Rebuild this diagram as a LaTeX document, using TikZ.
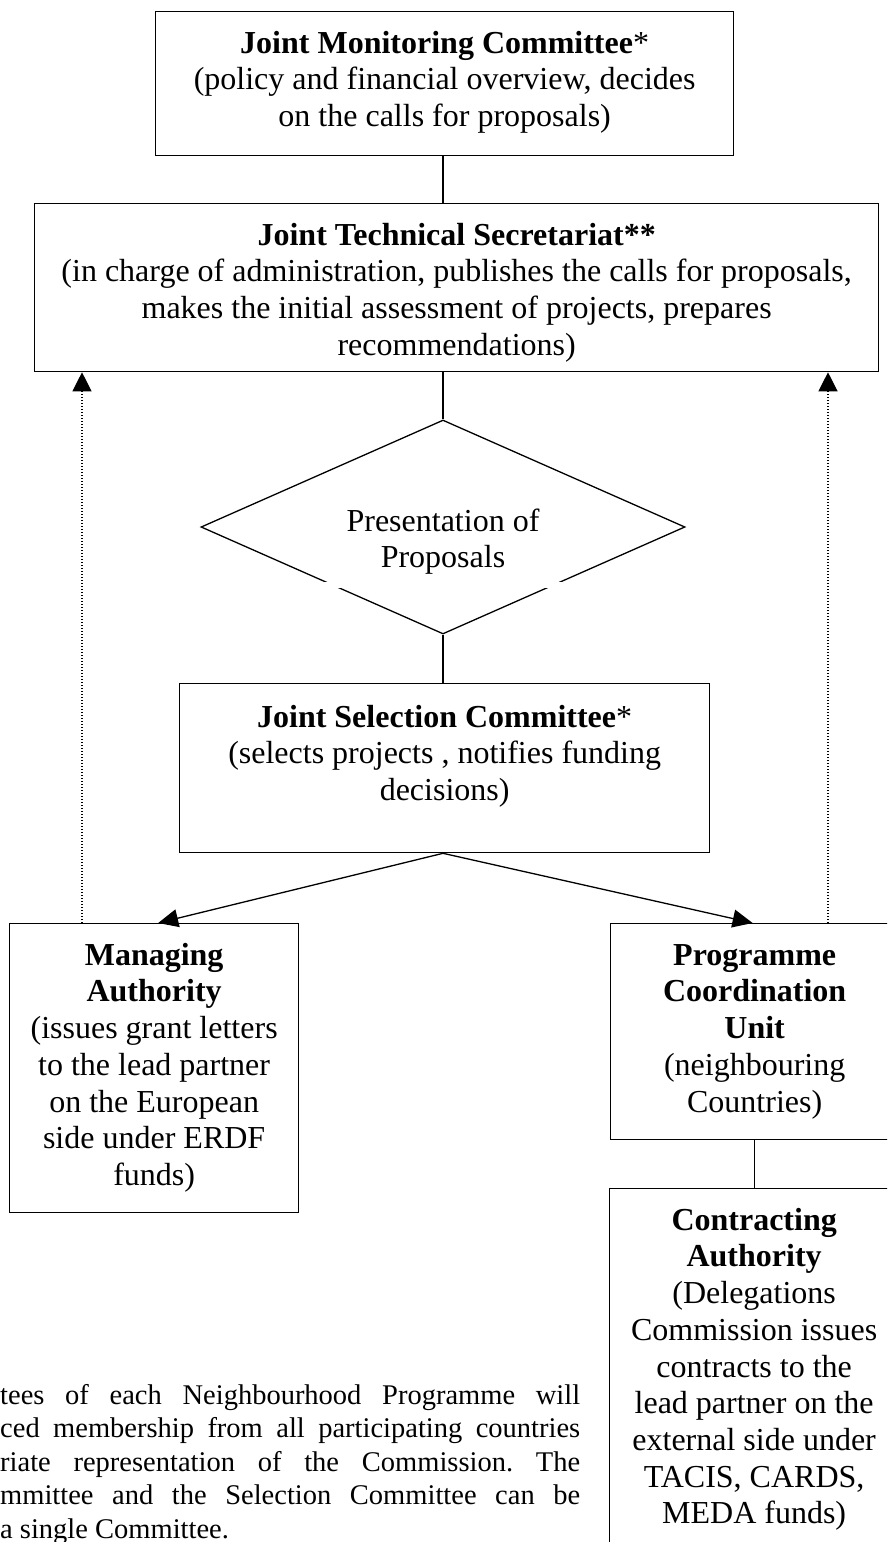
\documentclass[tikz,border=0pt]{standalone}
\usepackage{fontspec}
\setmainfont{Liberation Serif}
\usetikzlibrary{arrows.meta,shapes.geometric,calc}
\frenchspacing
\begin{document}
\begin{tikzpicture}[x=1pt,y=-1pt,
  boxst/.style={draw, line width=1.3pt, rectangle, inner sep=0pt, anchor=north west},
  txt/.style={align=center, inner sep=0pt, anchor=north, font=\fontsize{32}{36.7}\selectfont},
  conn/.style={line width=1.3pt},
  arr/.style={line width=1.3pt, -{Triangle[length=20pt,width=18pt]}},
  dotarr/.style={line width=1.2pt, dash pattern=on 1.4pt off 1.6pt, -{Triangle[length=19pt,width=19pt]}},
  foot/.style={align=left, inner sep=0pt, anchor=north west, font=\fontsize{28.5}{33.5}\selectfont}]
\useasboundingbox (0,0) rectangle (887,1542);
\fill[white] (0,0) rectangle (887,1542);
\clip (0,0) rectangle (887,1542);
\newcommand{\fst}{\rule{0pt}{24pt}}
% boxes
\node[boxst, minimum width=578pt, minimum height=144pt] (jmc) at (155,11) {};
\node[boxst, minimum width=844pt, minimum height=168pt] (jts) at (34,203) {};
\node[draw, diamond, line width=1.3pt, inner sep=0pt, aspect=2.26, minimum width=484pt, minimum height=214pt] (dia) at (443,527) {};
\node[boxst, minimum width=530pt, minimum height=169pt] (jsc) at (179,683) {};
\node[boxst, minimum width=289pt, minimum height=289pt] (ma) at (9,923) {};
\node[boxst, minimum width=288pt, minimum height=216pt] (pcu) at (610,923) {};
\node[boxst, minimum width=289pt, minimum height=380pt] (ca) at (609,1188) {};
% gap in the diamond
\fill[white] (316,582) rectangle (572,588);
% texts
\node[txt] (tjmc) at ($(jmc.north)+(0,18)$) {\fst\textbf{Joint Monitoring Committee}*\\(policy and financial overview, decides\\on the calls for proposals)};
\node[txt] (tjts) at ($(jts.north)+(0,18)$) {\fst\textbf{Joint Technical Secretariat**}\\(in charge of administration, publishes the calls for proposals,\\makes the initial assessment of projects, prepares\\recommendations)};
\node[txt] (tdia) at (443,507) {\fst Presentation of\\Proposals};
\node[txt] (tjsc) at ($(jsc.north)+(0,20)$) {\fst\textbf{Joint Selection Committee}*\\(selects projects , notifies funding\\decisions)};
\node[txt] (tma) at ($(ma.north)+(0,18)$) {\fst\textbf{Managing}\\\textbf{Authority}\\(issues grant letters\\to the lead partner\\on the European\\side under ERDF\\funds)};
\node[txt] (tpcu) at ($(pcu.north)+(0,18)$) {\fst\textbf{Programme}\\\textbf{Coordination}\\\textbf{Unit}\\(neighbouring\\Countries)};
\node[txt] (tca) at ($(ca.north)+(0,18)$) {\fst\textbf{Contracting}\\\textbf{Authority}\\(Delegations\\Commission issues\\contracts to the\\lead partner on the\\external side under\\TACIS, CARDS,\\MEDA funds)};
% footnote (cut by the left edge)
\node[foot] (fn) at (0,1382) {\rule{0pt}{22pt}\makebox[580pt][s]{tees of each Neighbourhood Programme will}\\
\makebox[580pt][s]{ced membership from all participating countries}\\
\makebox[580pt][s]{riate representation of the Commission. The}\\
\makebox[580pt][s]{mmittee and the Selection Committee can be}\\
a single Committee.};
% connectors
\draw[conn] (jmc.south -| dia.center) -- (jts.north -| dia.center);
\draw[conn] (jts.south -| dia.center) -- (dia.north);
\draw[conn] (dia.south) -- (jsc.north -| dia.center);
\draw[conn] (pcu.south) -- (ca.north -| pcu.south);
\draw[arr] (jsc.south -| dia.center) -- ($(ma.north)+(4,0)$);
\draw[arr] (jsc.south -| dia.center) -- ($(pcu.north)+(-2,0)$);
\path (82,0) coordinate (xl) (828,0) coordinate (xr);
\draw[dotarr] (ma.north -| xl) -- (jts.south -| xl);
\draw[dotarr] (pcu.north -| xr) -- (jts.south -| xr);
\end{tikzpicture}
\end{document}
